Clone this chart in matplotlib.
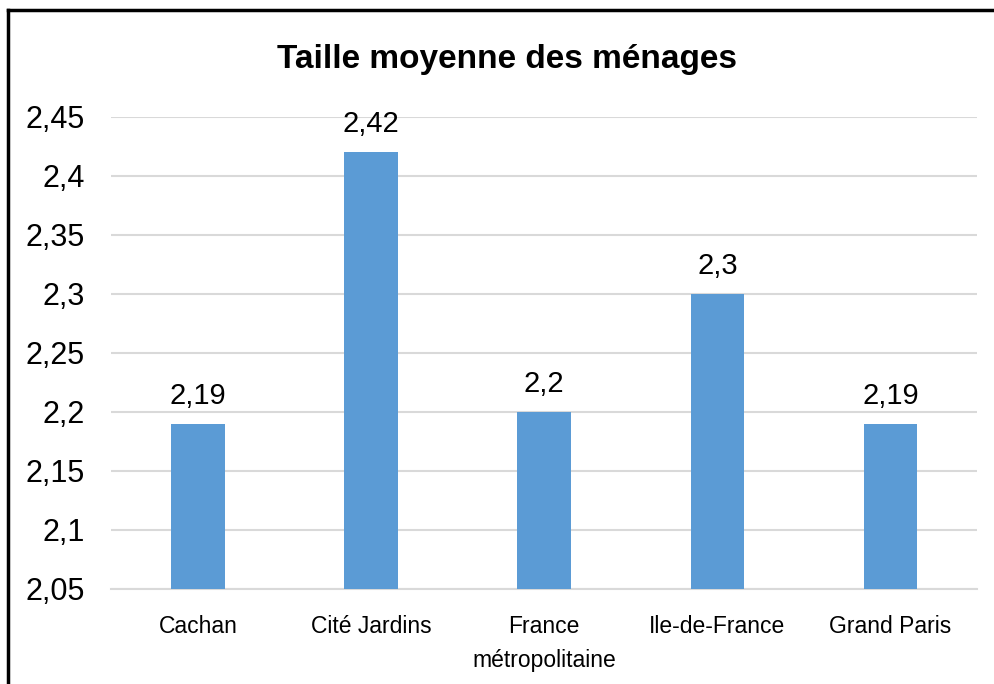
import matplotlib
matplotlib.use("Agg")
import matplotlib.pyplot as plt
from matplotlib.lines import Line2D

categories = ["Cachan", "Cité Jardins", "France\nmétropolitaine", "Ile-de-France", "Grand Paris"]
values = [2.19, 2.42, 2.2, 2.3, 2.19]
value_labels = ["2,19", "2,42", "2,2", "2,3", "2,19"]
yticks = [2.05, 2.1, 2.15, 2.2, 2.25, 2.3, 2.35, 2.4, 2.45]
ytick_labels = ["2,05", "2,1", "2,15", "2,2", "2,25", "2,3", "2,35", "2,4", "2,45"]

fam = ["Liberation Sans Narrow", "Liberation Sans", "DejaVu Sans"]
plt.rcParams["font.family"] = fam

fig = plt.figure(figsize=(9.94, 6.84), dpi=100)
ax = fig.add_axes([0.112, 0.139, 0.871, 0.690])

x = range(len(categories))
ax.bar(x, values, width=0.31, color="#5b9bd5", zorder=3)
for i, v in enumerate(values):
    ax.text(i, v + 0.012, value_labels[i], ha="center", va="bottom", fontsize=21)

ax.set_xlim(-0.5, len(categories) - 0.5)
ax.set_ylim(2.05, 2.45)
ax.set_yticks(yticks)
ax.set_yticklabels(ytick_labels, fontsize=22)
ax.set_xticks(list(x))
ax.set_xticklabels(categories, fontsize=16.5, linespacing=1.6)
ax.tick_params(axis="both", length=0)
ax.tick_params(axis="y", pad=19)
ax.tick_params(axis="x", pad=19)
ax.grid(axis="y", color="#d9d9d9", linewidth=1.5, zorder=0)
for s in ["top", "right", "left"]:
    ax.spines[s].set_visible(False)
ax.spines["bottom"].set_color("#d9d9d9")
ax.spines["bottom"].set_linewidth(1.5)

fig.text(0.51, 0.913, "Taille moyenne des ménages", ha="center", va="center",
         fontsize=24, fontweight="bold")

# frame around the chart (top and left edges visible)
fig.add_artist(Line2D([0.008, 0.008], [0.0, 0.985], color="black", linewidth=2.5,
                      transform=fig.transFigure))
fig.add_artist(Line2D([0.008, 1.0], [0.985, 0.985], color="black", linewidth=2.5,
                      transform=fig.transFigure))

fig.savefig("out.png", dpi=100)
